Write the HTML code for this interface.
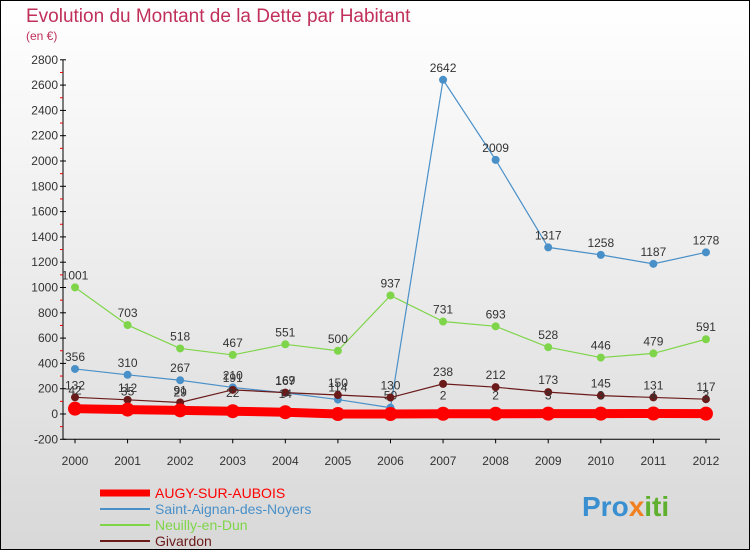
<!DOCTYPE html>
<html><head><meta charset="utf-8"><style>
body{margin:0;}
#c{width:750px;height:550px;position:relative;font-family:"Liberation Sans",sans-serif;}
</style></head><body>
<div id="c">
<svg id="s" width="750" height="550" xmlns="http://www.w3.org/2000/svg">
<defs><linearGradient id="bg" x1="0" y1="0" x2="0" y2="1"><stop offset="0" stop-color="#ffffff"/><stop offset="1" stop-color="#d8d8d8"/></linearGradient></defs>
<rect x="0.5" y="0.5" width="749" height="549" fill="url(#bg)" stroke="#000"/>
<text x="26" y="22" font-size="19" fill="#c0305a">Evolution du Montant de la Dette par Habitant</text>
<text x="26" y="40" font-size="12" fill="#c0305a">(en €)</text>
<g id="axes"></g><g id="series"></g><g id="legend"></g>
<text x="582" y="516" font-size="28" font-weight="bold" fill="#3a8fd0">Pro<tspan fill="#f08020">x</tspan><tspan fill="#60b030">iti</tspan></text>
</svg></div>
<script>
const years=[2000,2001,2002,2003,2004,2005,2006,2007,2008,2009,2010,2011,2012];
const yTicks=[-200,0,200,400,600,800,1000,1200,1400,1600,1800,2000,2200,2400,2600,2800];
const augy=[42,35,29,22,14,0,0,2,2,3,3,4,3];
const saint=[356,310,267,210,167,114,50,2642,2009,1317,1258,1187,1278];
const neuilly=[1001,703,518,467,551,500,937,731,693,528,446,479,591];
const givardon=[132,112,91,191,169,150,130,238,212,173,145,131,117];
const seriesNames=["AUGY-SUR-AUBOIS","Saint-Aignan-des-Noyers","Neuilly-en-Dun","Givardon"];
const NS="http://www.w3.org/2000/svg";
const X=i=>75+i*52.58;
const Y=v=>414-v*0.1265;
function mk(t,a,p){const e=document.createElementNS(NS,t);for(const k in a)e.setAttribute(k,a[k]);p.appendChild(e);return e;}
const ax=document.getElementById('axes');
const yl=mk('line',{x1:63,y1:Y(2800),x2:63,y2:Y(-200),stroke:'#000'},ax);


yTicks.forEach(v=>{
 mk('line',{x1:60,x2:66,y1:Y(v),y2:Y(v),stroke:'#000'},ax);
 if(v<2800)mk('line',{x1:60,x2:63,y1:Y(v+100),y2:Y(v+100),stroke:'#e00'},ax);
 const t=mk('text',{x:58,y:Y(v)+4,'font-size':12,'text-anchor':'end',fill:'#333'},ax);t.textContent=v;
 
 
});
const xl=mk('line',{x1:63,y1:Y(-200),x2:720,y2:Y(-200),stroke:'#000'},ax);


years.forEach((y,i)=>{
 mk('line',{x1:X(i),x2:X(i),y1:Y(-200),y2:Y(-200)+4,stroke:'#000'},ax);
 const t=mk('text',{x:X(i),y:465,'font-size':12,'text-anchor':'middle',fill:'#333'},ax);t.textContent=y;
 
 
});
const sg=document.getElementById('series');
function draw(data,color,lw,r,name,labels){
 const g=mk('g',{},sg);
 
 
 mk('polyline',{points:data.map((v,i)=>X(i)+','+Y(v)).join(' '),fill:'none',stroke:color,'stroke-width':lw},g);
 data.forEach((v,i)=>{
  const c=mk('circle',{cx:X(i),cy:Y(v),r:r,fill:color},g);
  
  
  if(labels){const t=mk('text',{x:X(i),y:Y(v)-8,'font-size':12,'text-anchor':'middle',fill:'#333'},g);t.textContent=v;}
 });
}
draw(neuilly,'#7fd54a',1.2,4,'series-neuilly',true);
draw(saint,'#4a90c8',1.2,4,'series-saint-aignan',true);
draw(givardon,'#6b1a1a',1.2,4,'series-givardon',true);
draw(augy,'#ff0000',9,7,'series-augy',false);
augy.forEach((v,i)=>{if(i==5||i==6)return;const t=mk('text',{x:X(i),y:Y(v)-14,'font-size':12,'text-anchor':'middle',fill:'#333'},sg);t.textContent=v;});
const lg=document.getElementById('legend');
const lc=['#ff0000','#4a90c8','#7fd54a','#6b1a1a'],lw=[7,2,2,2];
seriesNames.forEach((n,i)=>{
 const y=493+i*16;
 const l=mk('line',{x1:100,x2:150,y1:y,y2:y,stroke:lc[i],'stroke-width':lw[i]},lg);
 
 
 const t=mk('text',{x:155,y:y+5,'font-size':14,fill:lc[i]},lg);t.textContent=n;
 
 
});
</script>
</body></html>
